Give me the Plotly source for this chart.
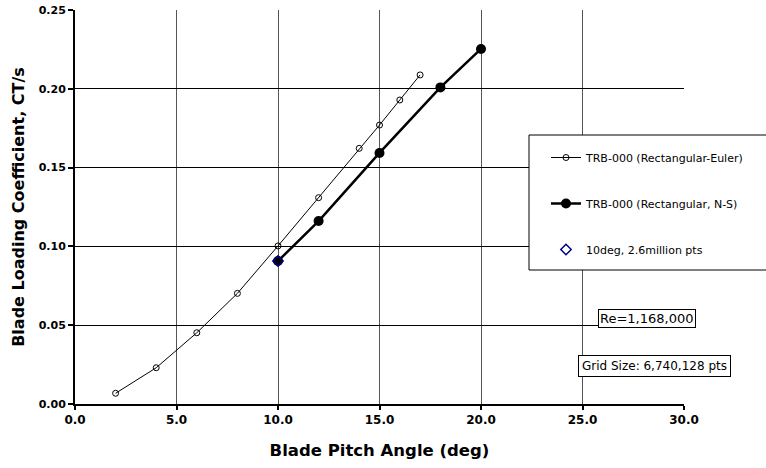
import plotly.graph_objects as go

euler_x = [2, 4, 6, 8, 10, 12, 14, 15, 16, 17]
euler_y = [0.0068, 0.023, 0.0452, 0.0702, 0.1003, 0.1309, 0.1622, 0.177, 0.1929, 0.2088]
ns_x = [10, 12, 15, 18, 20]
ns_y = [0.0907, 0.1161, 0.1593, 0.2009, 0.2253]
fine_x = [10]
fine_y = [0.0907]

names = ["TRB-000 (Rectangular-Euler)", "TRB-000 (Rectangular, N-S)", "10deg, 2.6million pts"]
x_ticks = [0, 5, 10, 15, 20, 25, 30]
y_ticks = [0.0, 0.05, 0.10, 0.15, 0.20, 0.25]

fig = go.Figure()
fig.add_trace(go.Scatter(x=euler_x, y=euler_y, mode="lines+markers", name=names[0],
                         line=dict(color="black", width=1),
                         marker=dict(symbol="circle-open", size=6, color="black", line=dict(width=1)),
                         legendgroup="a"))
fig.add_trace(go.Scatter(x=ns_x, y=ns_y, mode="lines+markers", name=names[1],
                         line=dict(color="black", width=2.5),
                         marker=dict(symbol="circle", size=10, color="black"),
                         legendgroup="b"))
fig.add_trace(go.Scatter(x=fine_x, y=fine_y, mode="markers", name=names[2],
                         marker=dict(symbol="diamond-open", size=8, color="#000080", line=dict(width=1.5)),
                         legendgroup="c"))

font_main = "DejaVu Sans"
fig.update_layout(
    width=766, height=468,
    margin=dict(l=75, r=82, t=10, b=64, autoexpand=False),
    paper_bgcolor="white", plot_bgcolor="white",
    font=dict(family=font_main, color="black"),
    showlegend=True,
    legend=dict(x=(546 - 75) / 609, y=(404 - 143) / 394, xanchor="left", yanchor="top",
                bgcolor="rgba(0,0,0,0)", borderwidth=0,
                font=dict(size=11, family=font_main),
                traceorder="grouped", tracegroupgap=27),
    xaxis=dict(range=[0, 30], tickvals=x_ticks, tickformat=".1f",
               showgrid=True, gridcolor="#555555", gridwidth=1,
               showline=True, linecolor="black", linewidth=2,
               ticks="outside", ticklen=4, tickcolor="black", tickwidth=1.5,
               tickfont=dict(size=12, family=font_main, weight="bold"),
               title=dict(text="Blade Pitch Angle (deg)", standoff=18,
                          font=dict(size=16.5, family=font_main, weight="bold")),
               zeroline=False, automargin=False),
    yaxis=dict(range=[0, 0.25], tickvals=y_ticks, tickformat=".2f",
               showgrid=True, gridcolor="black", gridwidth=1,
               showline=True, linecolor="black", linewidth=2,
               ticks="outside", ticklen=5, tickcolor="black", tickwidth=1.5,
               tickfont=dict(size=11, family=font_main, weight="bold"),
               title=dict(text="Blade Loading Coefficient, CT/s", standoff=10,
                          font=dict(size=16, family=font_main, weight="bold")),
               zeroline=False, automargin=False),
)

# legend frame
fig.add_shape(type="rect", xref="paper", yref="paper",
              x0=(529 - 75) / 609, x1=(766 - 75) / 609 + 0.01,
              y0=(404 - 270) / 394, y1=(404 - 135) / 394,
              line=dict(color="black", width=1), fillcolor="white", layer="above")

fig.add_annotation(xref="paper", yref="paper", x=(646.5 - 75) / 609, y=(404 - 318.5) / 394,
                   xanchor="center", yanchor="middle",
                   text="Re=1,168,000", showarrow=False,
                   font=dict(size=13, family=font_main, color="black"),
                   bgcolor="white", bordercolor="black", borderwidth=1, borderpad=1)
fig.add_annotation(xref="paper", yref="paper", x=(654 - 75) / 609, y=(404 - 365.5) / 394,
                   xanchor="center", yanchor="middle",
                   text="Grid Size: 6,740,128 pts", showarrow=False,
                   font=dict(size=12, family=font_main, color="black"),
                   bgcolor="white", bordercolor="black", borderwidth=1, borderpad=3)

fig.write_html("out.html")
